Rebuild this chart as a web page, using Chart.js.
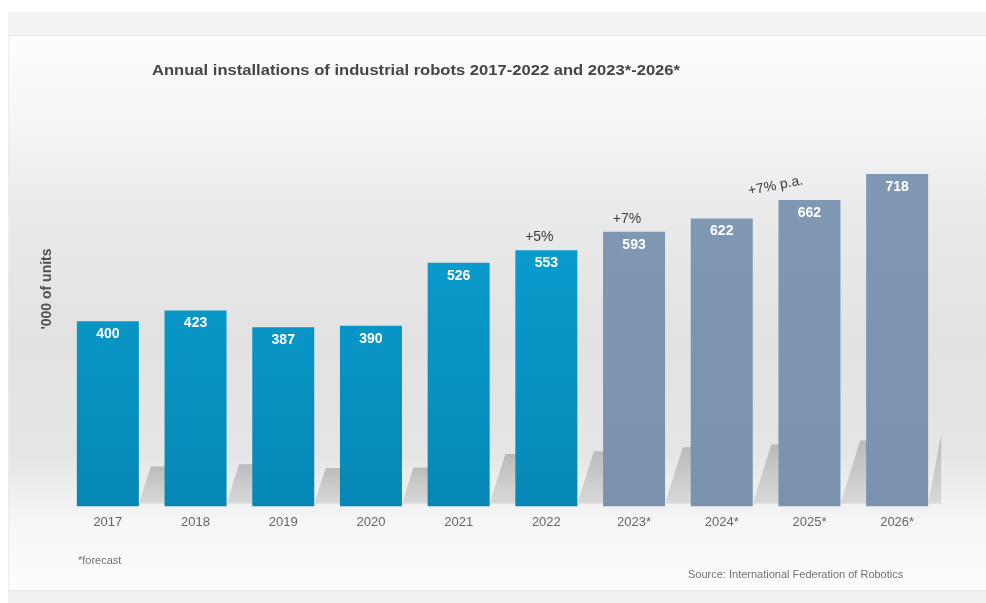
<!DOCTYPE html>
<html>
<head>
<meta charset="utf-8">
<script src="https://cdn.jsdelivr.net/npm/chart.js@4.4.1/dist/chart.umd.min.js"></script>
<style>
  html, body { margin: 0; padding: 0; background: #ffffff; }
  #wrap { position: relative; width: 986px; height: 603px; overflow: hidden; background: #ffffff; }
  #bandTop { position: absolute; left: 8px; top: 12px; width: 978px; height: 23px; background: #f3f3f3; border-bottom: 1px solid #e9e9e9; }
  #card { position: absolute; left: 8px; top: 36px; width: 978px; height: 554px;
          border-left: 1px solid #ececec;
          background: linear-gradient(to bottom, #fdfdfd 0%, #f6f6f6 14%, #eaeaea 32%, #e2e2e2 55%, #e5e5e5 75%, #f6f6f6 88%, #fdfdfd 100%); }
  #bandBot { position: absolute; left: 8px; top: 590px; width: 978px; height: 13px; background: #f1f1f1; border-top: 1px solid #e6e6e6; }
  canvas { position: absolute; left: 0; top: 0; }
</style>
</head>
<body>
<div id="wrap">
  <div id="bandTop"></div>
  <div id="card"></div>
  <div id="bandBot"></div>
  <canvas id="c" width="986" height="603"></canvas>
</div>
<script>
// ---- data ----
const years = ['2017', '2018', '2019', '2020', '2021', '2022', '2023*', '2024*', '2025*', '2026*'];
const installations = [400, 423, 387, 390, 526, 553, 593, 622, 662, 718];
const growthNotes = ['', '', '', '', '', '+5%', '+7%', '', '', ''];
const trendNote = '+7% p.a.';
const titleText = 'Annual installations of industrial robots 2017-2022 and 2023*-2026*';
const yAxisLabel = "'000 of units";
const footnote = '*forecast';
const sourceText = 'Source: International Federation of Robotics';

const FONT = '"Liberation Sans", Arial, Helvetica, sans-serif';

function barFill(ctx) {
  const chart = ctx.chart;
  const area = chart.chartArea;
  if (!area) return '#0097c9';
  const forecast = years[ctx.dataIndex].indexOf('*') >= 0;
  const g = chart.ctx.createLinearGradient(0, area.top, 0, area.bottom);
  if (forecast) {
    g.addColorStop(0, '#8199b4');
    g.addColorStop(1, '#7a92ae');
  } else {
    g.addColorStop(0, '#0aa5d8');
    g.addColorStop(1, '#0687b5');
  }
  return g;
}

// soft cast shadows behind the bars (proportional to bar height, skewed to the right)
const shadowPlugin = {
  id: 'barShadows',
  beforeDatasetsDraw(chart) {
    const ctx = chart.ctx;
    const meta = chart.getDatasetMeta(0);
    const n = meta.data.length;
    ctx.save();
    meta.data.forEach((bar, i) => {
      const right = bar.x + bar.width / 2;
      const base = bar.base;
      const sh = (base - bar.y) * 0.215;
      const reach = i === n - 1 ? 13 : 28;
      const slant = Math.min(sh * 0.3, reach);
      const top = base - sh;
      const g = ctx.createLinearGradient(0, top, 0, base);
      g.addColorStop(0, 'rgba(150,150,150,0.55)');
      g.addColorStop(1, 'rgba(175,175,175,0.35)');
      ctx.fillStyle = g;
      ctx.beginPath();
      ctx.moveTo(right, base - 3);
      ctx.lineTo(right + slant, top);
      ctx.lineTo(right + reach, top);
      ctx.lineTo(right + reach, base - 3);
      ctx.closePath();
      ctx.fill();
    });
    ctx.restore();
  }
};

const textPlugin = {
  id: 'texts',
  afterDatasetsDraw(chart) {
    const ctx = chart.ctx;
    const meta = chart.getDatasetMeta(0);
    ctx.save();
    // value labels
    ctx.fillStyle = '#ffffff';
    ctx.font = 'bold 14px ' + FONT;
    ctx.textAlign = 'center';
    ctx.textBaseline = 'middle';
    meta.data.forEach((bar, i) => {
      ctx.fillText(String(installations[i]), bar.x, bar.y + 13);
    });
    // growth notes
    ctx.fillStyle = '#3d3d3d';
    ctx.font = '14px ' + FONT;
    meta.data.forEach((bar, i) => {
      if (growthNotes[i]) ctx.fillText(growthNotes[i], bar.x - 7, bar.y - 13);
    });
    // trend note between 2024* and 2025*
    const b7 = meta.data[7], b8 = meta.data[8];
    const tx = (b7.x + b8.x) / 2 + 10;
    const ty = b8.y - 14;
    ctx.translate(tx, ty);
    ctx.rotate(-11 * Math.PI / 180);
    ctx.fillText(trendNote, 0, 0);
    ctx.restore();

    ctx.save();
    // title (condensed look: scale horizontally to span)
    ctx.fillStyle = '#454545';
    ctx.font = 'bold 15px ' + FONT;
    ctx.textAlign = 'left';
    ctx.textBaseline = 'middle';
    const w = ctx.measureText(titleText).width;
    ctx.save();
    ctx.translate(152, 71);
    ctx.scale(528 / w, 1);
    ctx.fillText(titleText, 0, 0);
    ctx.restore();
    // y label
    ctx.save();
    ctx.translate(47, 289);
    ctx.rotate(-Math.PI / 2);
    ctx.textAlign = 'center';
    ctx.font = 'bold 14px ' + FONT;
    ctx.fillStyle = '#505050';
    ctx.fillText(yAxisLabel, 0, 0);
    ctx.restore();
    // footnote & source
    ctx.font = '11px ' + FONT;
    ctx.fillStyle = '#707070';
    ctx.textAlign = 'left';
    ctx.fillText(footnote, 78, 561);
    ctx.fillText(sourceText, 688, 575);
    ctx.restore();
  }
};

new Chart(document.getElementById('c'), {
  type: 'bar',
  data: {
    labels: years,
    datasets: [{
      data: installations,
      backgroundColor: barFill,
      borderWidth: 0,
      categoryPercentage: 1.0,
      barPercentage: 0.707
    }]
  },
  options: {
    responsive: false,
    animation: false,
    layout: { padding: { left: 64, right: 45, top: 136, bottom: 65 } },
    plugins: { legend: { display: false }, tooltip: { enabled: false }, title: { display: false } },
    scales: {
      x: {
        grid: { display: false, drawTicks: false },
        border: { display: false },
        ticks: { color: '#666666', font: { family: FONT, size: 13 }, padding: 8, maxRotation: 0 }
      },
      y: { display: false, min: 0, max: 800 }
    }
  },
  plugins: [shadowPlugin, textPlugin]
});
</script>
</body>
</html>
